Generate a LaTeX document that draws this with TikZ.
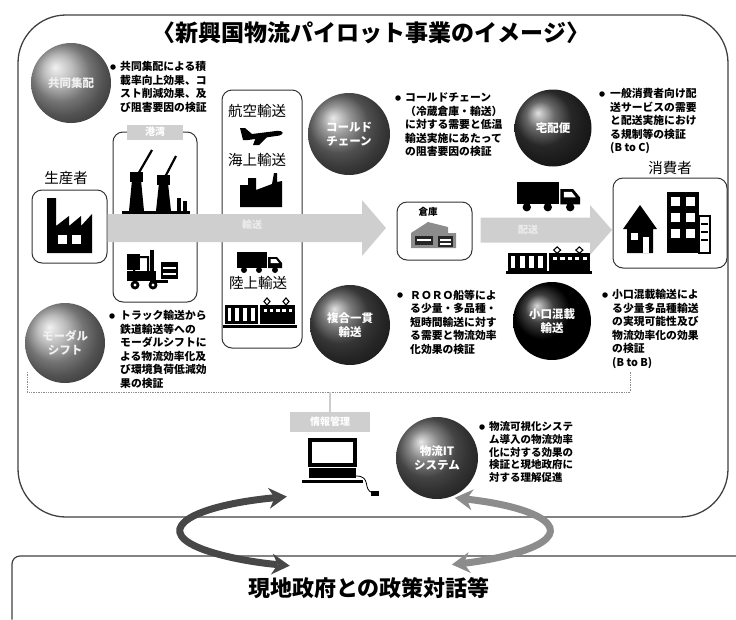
\documentclass[tikz,border=0pt]{standalone}
\usepackage{fontspec}
\setmainfont{Noto Sans CJK JP}
\usetikzlibrary{arrows.meta,calc}

\begin{document}
\begin{tikzpicture}[x=1pt,y=-1pt,
  txt/.style={anchor=north west, inner sep=0pt, align=left,
    font=\bfseries\fontsize{10.8}{13.5}\selectfont},
  dot/.style={circle, fill=black, inner sep=0pt, minimum size=5.5pt},
  sphere/.style={circle, inner sep=0pt, minimum size=#1, text=white, align=center,
    font=\bfseries\fontsize{11.5}{13.5}\selectfont},
  frame/.style={draw=black!80, line width=1pt, rounded corners=10pt},
  tag/.style={fill=gray!38, text=white, inner sep=0pt, font=\bfseries\fontsize{10}{12}\selectfont},
  bandfill/.style={fill=gray!38},
  bandtext/.style={text=white!85!gray, font=\bfseries\fontsize{10}{12}\selectfont},
  loop/.style={line width=7pt,
    {Stealth[length=18pt 0 0, width=21pt 0 0, line width=0pt]}-{Stealth[length=18pt 0 0, width=21pt 0 0, line width=0pt]}},
  lbl/.style={inner sep=0pt, font=\fontsize{14.5}{16}\selectfont},
  pics/truck/.style={code={
    \fill (0,0) rectangle (30,16);
    \fill (31,5) -- (40,5) -- (45,11) -- (45,16) -- (31,16) -- cycle;
    \fill[white] (33.5,7) -- (39,7) -- (42,11) -- (33.5,11) -- cycle;
    \fill (7,18) circle (3); \fill (22,18) circle (3); \fill (38,18) circle (3);
  }},
  pics/train/.style={code={
    \fill (0,8) rectangle (33,27);
    \foreach \i in {0,1,2,3} \fill[white] ({2.5+\i*7.8},11) rectangle ({6.3+\i*7.8},24);
    \fill (35,8) rectangle (70,27);
    \foreach \i in {0,...,4} \fill[white] ({38.5+\i*6.3},12) rectangle ({42+\i*6.3},15);
    \draw[line width=1.1pt] (42,8) -- (39,4.5) -- (42,1) -- (45,4.5) -- cycle;
    \draw[line width=1.1pt] (61,8) -- (58,4.5) -- (61,1) -- (64,4.5) -- cycle;
    \fill (-2,28) rectangle (72,31);
  }},
]
\useasboundingbox (0,0) rectangle (736,619);

% ---- frames ----
\draw[line width=1.3pt, draw=black!75, rounded corners=48pt] (18,15) rectangle (728,517);
\draw[line width=1.2pt, draw=black!75, rounded corners=8pt] (12,619.5) -- (12,556) -- (736.5,556);

% ---- title ----
\node[font=\bfseries\fontsize{23}{26}\selectfont] (title) at (371,33) {〈新興国物流パイロット事業のイメージ〉};

% ---- boxes ----
\node[frame, minimum width=75pt, minimum height=73pt] (factory) at (69.5,226.5) {};
\node[lbl] (prodlbl) at (66,178) {生産者};
\node[frame, minimum width=84pt, minimum height=170pt] (port) at (155,217) {};
\node[tag, minimum width=56pt, minimum height=15pt] (porttag) at (155,132) {港湾};
\node[frame, minimum width=80pt, minimum height=258pt] (trans) at (262,219) {};
\node[frame, minimum width=75pt, minimum height=58pt] (wh) at (434.5,231) {};
\node[font=\bfseries\fontsize{9.5}{11}\selectfont, inner sep=0pt] (whlbl) at (428,212) {倉庫};
\node[frame, minimum width=114pt, minimum height=90pt] (cons) at (670,223) {};
\node[lbl] (conslbl) at (670,168) {消費者};

% ---- transport modes ----
\node[lbl] (air) at (257,111) {航空輸送};
\node[lbl] (sea) at (257,160) {海上輸送};
\node[lbl] (land) at (258,283) {陸上輸送};

% airplane
\fill (240,128) -- (245,128) -- (252,134) -- (276,131) .. controls (285,130) and (285,135.5) .. (276,136) -- (248,140) -- (243,140) -- cycle;
\fill (256,137) -- (267,137) -- (259,145) -- (253,145) -- cycle;
% ship
\fill (240,207) -- (240,185) -- (248,185) -- (248,178) -- (256,178) -- (256,190) -- (272,184) -- (274,173) -- (277,173) -- (277,182) -- (282,181) -- (282,207) -- cycle;
% truck and train
\pic at (237,252) {truck};
\pic at (225,297) {train};

% ---- factory icon ----
\fill (47,253) -- (47,198) -- (56,198) -- (56,226) -- (69,216) -- (69,226) -- (81,216) -- (81,226) -- (92,214) -- (92,253) -- cycle;
\fill[white] (58,235) rectangle (67,244);
\fill[white] (72,235) rectangle (81,244);

% ---- cranes ----
\fill (122,211) rectangle (190,215);
\fill (129,211) -- (132,180) -- (141,180) -- (144,211) -- cycle;
\fill (130,172) rectangle (143,182);
\draw[line width=2.2pt] (137,176) -- (152,150);
\fill (156,211) -- (159,183) -- (168,183) -- (171,211) -- cycle;
\fill (157,175) rectangle (170,185);
\draw[line width=2.2pt] (164,179) -- (176,156);
\fill (177,198) rectangle (181,211);
\fill (183,201) rectangle (187,211);

% ---- forklift ----
\fill (127,254) rectangle (140,270);
\draw[line width=2pt] (134,272) -- (136,257) -- (148,257) -- (148,272);
\fill (127,271) rectangle (156,281);
\fill (150,250) rectangle (154,283);
\fill (154,280) rectangle (168,283);
\fill (161,262) rectangle (178,279);
\fill[white] (163,267) rectangle (176,268.5);
\fill[white] (163,273) rectangle (176,274.5);
\fill (135,285) circle (4.5); \fill[white] (135,285) circle (1.6);
\fill (153,285) circle (4.5); \fill[white] (153,285) circle (1.6);

% ---- warehouse icon ----
\fill[black!45] (411,248) -- (411,233) -- (428,222) -- (448,227) -- (448,233) -- (456,233) -- (456,248) -- cycle;
\fill[black!85] (415,236) rectangle (433,245);
\fill[white] (417,239) rectangle (431,241);
\fill[black!85] (438,236) rectangle (453,247);
\fill[white] (440,239) rectangle (451,240.5);
\fill[white] (440,243) rectangle (451,244.5);

% ---- consumer icons ----
\fill (623,229) -- (640,205) -- (657,229) -- (653,229) -- (653,253) -- (627,253) -- (627,229) -- cycle;
\fill[white] (631,233) rectangle (638,240);
\fill[white] (643,237) rectangle (649,253);
\fill (667,192) rectangle (699,253);
\foreach \yy in {197,213,229} {
  \fill[white] (671,\yy) rectangle (680,\yy+9);
  \fill[white] (686,\yy) rectangle (695,\yy+9);
}
\draw[line width=1.4pt] (699,216) rectangle (710,253);
\foreach \yy in {223,231,239} \fill (701,\yy) rectangle (708,\yy+2);

% ---- main flow bands ----
\coordinate (b1t) at (386,228);
\fill[bandfill] ($(factory.east |- b1t)+(0,-14)$) -- ($(b1t)+(-24,-14)$) -- ($(b1t)+(-24,-28)$) -- (b1t)
  -- ($(b1t)+(-24,28)$) -- ($(b1t)+(-24,14)$) -- ($(factory.east |- b1t)+(0,14)$) -- cycle;
\node[bandtext] (b1lbl) at (252,225) {輸送};
\coordinate (b2t) at (612,230);
\fill[bandfill] ($(wh.east |- b2t)+(8,-12.5)$) -- ($(b2t)+(-22,-12.5)$) -- ($(b2t)+(-22,-25)$) -- (b2t)
  -- ($(b2t)+(-22,25)$) -- ($(b2t)+(-22,12.5)$) -- ($(wh.east |- b2t)+(8,12.5)$) -- cycle;
\node[bandtext] (b2lbl) at (528,230) {配送};

% delivery vehicles
\pic[scale=1.4] at (517,182) {truck};
\pic[xscale=1.17, yscale=0.91] at (508,246) {train};

% ---- spheres ----
\node[sphere=80pt, ball color=black!35, text=white!88!gray] (c1) at (71,83) {共同集配};
\node[sphere=82pt, ball color=black!55] (c2) at (349,134) {コールド\\チェーン};
\node[sphere=77pt, ball color=black!78] (c3) at (553,128) {宅配便};
\node[sphere=80pt, ball color=black!35, text=white!88!gray] (c4) at (65,343) {モーダル\\シフト};
\node[sphere=80pt, ball color=black!70] (c5) at (350,325) {複合一貫\\輸送};
\node[sphere=78pt, ball color=black] (c6) at (552,321) {小口混載\\輸送};
\node[sphere=82pt, ball color=black!62] (c7) at (437,458) {物流IT\\システム};

% ---- descriptions ----
\node[dot] (d1) at (113,67) {};
\node[txt] (t1) at (120,61.5) {共同集配による積\\載率向上効果、コ\\スト削減効果、及\\び阻害要因の検証};
\node[dot] (d2) at (398,98) {};
\node[txt] (t2) at (405,92.5) {コールドチェーン\\（冷蔵倉庫・輸送）\\に対する需要と低温\\輸送実施にあたって\\の阻害要因の検証};
\node[dot] (d3) at (602,94) {};
\node[txt] (t3) at (610,88.5) {一般消費者向け配\\送サービスの需要\\と配送実施におけ\\る規制等の検証\\(B to C)};
\node[dot] (d4) at (112,316) {};
\node[txt] (t4) at (120,310.5) {トラック輸送から\\鉄道輸送等への\\モーダルシフトに\\よる物流効率化及\\び環境負荷低減効\\果の検証};
\node[dot] (d5) at (400,295) {};
\node[txt] (t5) at (410,289.5) {ＲＯＲＯ船等によ\\る少量・多品種・\\短時間輸送に対す\\る需要と物流効率\\化効果の検証};
\node[dot] (d6) at (605,295) {};
\node[txt] (t6) at (612,289.5) {小口混載輸送によ\\る少量多品種輸送\\の実現可能性及び\\物流効率化の効果\\の検証\\(B to B)};
\node[dot] (d7) at (482,427) {};
\node[txt, font=\bfseries\fontsize{10.5}{12.7}\selectfont] (t7) at (489,421.5) {物流可視化システ\\ム導入の物流効率\\化に対する効果の\\検証と現地政府に\\対する理解促進};

% ---- information management ----
\coordinate (brL) at (27,392);
\coordinate (brR) at (630,392);
\draw[densely dotted, draw=black!45, line width=0.7pt] ($(brL)+(0,-20)$) -- (brL) -- (brR) -- ($(brR)+(0,-20)$);
\node[tag, minimum width=80pt, minimum height=20pt] (ittag) at (330,422) {情報管理};
\draw[line width=2.2pt, draw=gray!40] (ittag.north |- brL) -- (ittag.north);

% computer
\fill (308,438) rectangle (357,467);
\fill[white] (312,442) rectangle (353,463);
\fill (309,468) rectangle (356,478);
\fill (302,480) rectangle (363,483);
\draw[line width=0.8pt] (356,476) .. controls (372,476) and (362,490) .. (373,493);
\fill (371,491) rectangle (379,496);

% ---- dialogue loop ----
\coordinate (lc) at (365,531);
\draw[loop, draw=black!72] ($(lc)+(245:185 and 38)$) arc[start angle=245, end angle=114, x radius=185, y radius=38];
\draw[loop, draw=black!45] ($(lc)+(-61:185 and 38)$) arc[start angle=-61, end angle=62, x radius=185, y radius=38];

\node[font=\bfseries\fontsize{22}{24}\selectfont] (policy) at (369,588) {現地政府との政策対話等};
\end{tikzpicture}
\end{document}
